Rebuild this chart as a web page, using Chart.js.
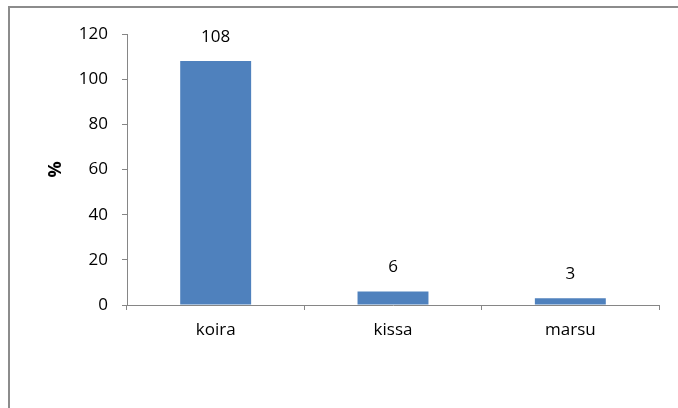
<!DOCTYPE html>
<html>
<head>
<meta charset="utf-8">
<script src="https://cdn.jsdelivr.net/npm/chart.js@4"></script>
<style>
    html, body { margin: 0; padding: 0; background: #fff; overflow: hidden; }
    #wrap { position: relative; width: 678px; height: 408px; }
    #frame {
        position: absolute; left: 8px; top: 6px; width: 800px; height: 600px;
        border-left: 2px solid #8c8c8c; border-top: 2px solid #8c8c8c;
        pointer-events: none;
    }
</style>
</head>
<body>
<div id="wrap">
    <canvas id="petsChart" width="678" height="408"></canvas>
    <div id="frame"></div>
</div>
<script>
// -- data --
const categories = ['koira', 'kissa', 'marsu'];
const percentValues = [108, 6, 3];
const yTicks = [0, 20, 40, 60, 80, 100, 120];
const yAxisTitle = '%';

const FONT = "'Open Sans', sans-serif";
const FONT_SIZE = 17;
const AXIS_GRAY = '#868686';

// arvot pylväiden yläpuolelle
const valueLabels = {
    id: 'valueLabels',
    afterDatasetsDraw(chart) {
        const ctx = chart.ctx;
        ctx.save();
        ctx.font = FONT_SIZE + 'px ' + FONT;
        ctx.fillStyle = '#000';
        ctx.textAlign = 'center';
        ctx.textBaseline = 'middle';
        chart.data.datasets.forEach((dataset, i) => {
            chart.getDatasetMeta(i).data.forEach((bar, index) => {
                ctx.fillText(dataset.data[index], bar.x, bar.y - 24);
            });
        });
        ctx.restore();
    }
};

new Chart(document.getElementById('petsChart').getContext('2d'), {
    type: 'bar',
    data: {
        labels: categories,
        datasets: [{
            data: percentValues,
            backgroundColor: '#4F81BD',
            borderWidth: 0,
            barPercentage: 0.4,
            categoryPercentage: 1
        }]
    },
    options: {
        responsive: false,
        animation: false,
        layout: { padding: { top: 34, right: 19, bottom: 43, left: 0 } },
        plugins: {
            legend: { display: false },
            tooltip: { enabled: false }
        },
        scales: {
            y: {
                min: 0,
                max: 120,
                afterBuildTicks: (axis) => { axis.ticks = yTicks.map(v => ({ value: v })); },
                afterFit: (axis) => { axis.width = 127; },
                ticks: { color: '#000', padding: 14, font: { family: FONT, size: FONT_SIZE } },
                grid: { drawOnChartArea: false, tickLength: 5, color: AXIS_GRAY },
                border: { color: AXIS_GRAY, width: 1 },
                title: {
                    display: true,
                    text: yAxisTitle,
                    color: '#000',
                    font: { family: FONT, size: FONT_SIZE + 1, weight: 'bold' },
                    padding: { top: 45, bottom: 0 }
                }
            },
            x: {
                afterFit: (axis) => { axis.height = 60; },
                ticks: { color: '#000', padding: 10, font: { family: FONT, size: FONT_SIZE } },
                grid: { offset: true, drawOnChartArea: false, tickLength: 5, color: AXIS_GRAY },
                border: { color: AXIS_GRAY, width: 1 }
            }
        }
    },
    plugins: [valueLabels]
});
</script>
</body>
</html>
